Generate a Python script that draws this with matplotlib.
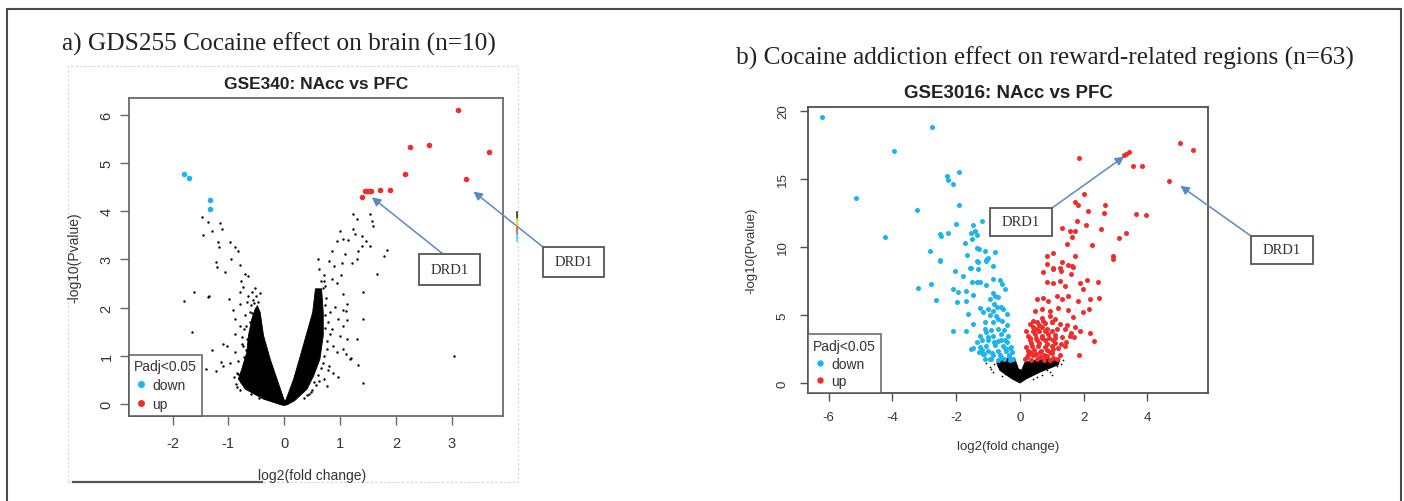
import matplotlib
matplotlib.use("Agg")
import matplotlib.pyplot as plt
from matplotlib.lines import Line2D
from matplotlib.patches import Rectangle

# ---------------- data : panel a (GSE340) ----------------
a_down_x = [-1.79, -1.70, -1.33, -1.33]
a_down_y = [4.77, 4.69, 4.24, 4.05]
a_up_x = [1.40, 1.44, 1.48, 1.52, 1.55, 1.72, 1.90, 2.16, 2.26, 2.60, 3.11, 3.26, 3.67]
a_up_y = [4.30, 4.41, 4.41, 4.41, 4.41, 4.44, 4.45, 4.77, 5.34, 5.37, 6.10, 4.66, 5.23]
a_ns_x = [-1.48, -1.37, -1.15, -1.45, -1.29, -1.12, -1.19, -1.16, -0.97, -0.88, -0.82, -1.22,
          -1.21, -1.06, -0.95, -0.80, -0.70, -0.64, -0.77, -0.73, -0.79, -0.64, -0.58, -1.34,
          -1.62, -1.80, -0.98, -0.91, -0.80, -0.67, -1.65, -0.88, -0.79, -0.88, -0.76, -1.09,
          -1.03, -1.30, -0.88, -1.14, -0.97, -1.10, -1.40, -1.22, -0.82, -0.73, -1.36,
          -0.70, -0.72, -0.75, -0.85, -0.90, -0.78, -0.85, -0.66, -0.72, -0.62, -0.60, -0.55,
          -0.50, -0.52, -0.60, -0.45, -0.69, -0.71, -0.68, -0.74, -0.80, -0.83, -0.87, -0.66,
          -0.62, -0.57, -0.54, -0.47, -0.44,
          1.24, 1.30, 1.54, 1.57, 1.60, 1.00, 0.94, 1.06, 1.15, 1.24, 1.27, 1.39, 1.47, 1.54,
          1.84, 1.78, 1.39, 1.33, 0.86, 0.80, 0.90, 1.03, 1.09, 1.21, 1.30, 1.66, 1.01, 0.71,
          0.74, 0.86, 0.94, 1.05, 1.42, 1.12, 0.91, 1.06, 0.82, 0.97, 1.06, 1.42, 0.85, 1.00,
          1.12, 0.88, 0.94, 1.06, 1.18, 1.33, 0.80, 0.88, 0.97, 0.71, 1.41, 0.77, 0.53, 1.11,
          1.20, 1.30, 1.11, 1.13, 3.05, 0.62, 0.60, 0.66,
          0.75, 0.78, 0.76, 0.72, 0.66, 0.60, 0.50, 0.45, 0.82, 0.73, 0.70, 0.74, 0.77, 0.73,
          0.69, 0.63, 0.57, 0.48, 0.40, 0.35, 0.79, 0.72]
a_ns_y = [3.87, 3.78, 3.76, 3.51, 3.59, 3.63, 3.37, 3.25, 3.37, 3.25, 3.18, 2.94,
          2.84, 2.73, 3.01, 2.89, 2.70, 2.66, 2.56, 2.42, 2.32, 2.25, 2.32, 2.25,
          2.33, 2.14, 2.17, 1.94, 2.07, 2.11, 1.49, 1.76, 1.62, 1.45, 1.38, 1.25,
          1.21, 1.13, 1.07, 0.88, 0.86, 0.79, 0.72, 0.69, 0.90, 1.21, 2.23,
          1.85, 1.55, 1.25, 0.65, 0.55, 0.45, 0.35, 0.60, 0.98, 1.70, 2.05, 2.15,
          2.25, 2.40, 0.20, 0.12, 1.12, 0.85, 1.62, 0.52, 0.30, 0.62, 0.42, 1.35,
          1.90, 1.88, 2.10, 2.12, 2.30,
          3.94, 3.84, 3.94, 3.80, 3.70, 3.60, 3.39, 3.42, 3.40, 3.63, 3.53, 3.49, 3.39, 3.28,
          3.20, 3.08, 3.28, 3.18, 3.18, 2.97, 2.87, 2.93, 3.11, 2.93, 3.01, 2.70, 2.67, 2.67,
          2.45, 2.59, 2.52, 2.28, 2.32, 2.08, 2.01, 1.94, 1.90, 1.76, 1.62, 1.76, 1.56, 1.42,
          1.35, 1.21, 1.07, 1.14, 0.93, 0.81, 0.79, 0.65, 0.55, 0.52, 0.44, 0.38, 0.45, 1.04,
          0.96, 1.35, 1.93, 1.75, 0.99, 2.80, 3.00, 2.55,
          2.20, 1.70, 1.30, 1.00, 0.75, 0.60, 0.30, 0.20, 1.45, 1.85, 2.40, 1.58, 1.15, 2.05,
          0.85, 0.48, 0.40, 0.25, 0.18, 0.12, 0.70, 2.55]
# dense non-significant core (outline of the solid black V)
a_core_x = [-0.48, -0.52, -0.58, -0.64, -0.67, -0.76, -0.82, -0.70, -0.37, -0.05, 0.00,
            0.05, 0.19, 0.41, 0.53, 0.64, 0.70, 0.70, 0.67, 0.56,
            0.51, 0.41, 0.29, 0.17, 0.03, 0.00, -0.13, -0.25, -0.37, -0.43]
a_core_y = [2.04, 1.97, 1.76, 1.42, 1.07, 0.72, 0.52, 0.31, 0.10, -0.02, -0.03,
            -0.02, 0.07, 0.31, 0.59, 0.93, 1.42, 1.90, 2.39, 2.39,
            1.90, 1.49, 1.00, 0.52, 0.08, 0.08, 0.52, 0.93, 1.42, 1.90]
a_xticks = [-2, -1, 0, 1, 2, 3]
a_yticks = [0, 1, 2, 3, 4, 5, 6]
a_drd1 = [(1.57, 4.29), (3.39, 4.41)]

# ---------------- data : panel b (GSE3016) ----------------
b_down_x = [-6.20, -2.75, -3.95, -5.13, -3.24, -4.23, -2.82, -2.50, -1.90, -2.28, -2.25, -2.09,
            -1.92, -2.51, -2.47, -2.26, -2.01, -1.73, -1.65, -1.52, -1.47, -1.54, -1.41, -1.34,
            -1.19, -1.34, -1.30, -1.10, -0.77, -1.34, -1.08, -1.03, -0.99, -0.84, -1.57,
            -2.51, -1.33, -1.05, -3.19, -2.80, -2.64, -2.04, -1.80, -1.55, -1.31, -2.09, -1.94,
            -1.70, -1.52, -1.36, -1.26, -1.05, -0.86, -0.63, -0.57, -0.47, -1.47, -1.68, -1.99,
            -1.26, -1.62, -1.47, -2.09, -1.68, -0.94, -0.79, -0.99, -0.84, -0.73, -0.52, -0.42,
            -1.10, -0.86, -0.68, -0.42, -1.26, -1.05, -0.84, -0.58, -0.37, -1.47, -1.26, -1.05,
            -0.79, -0.52, -0.29, -1.15, -0.84, -0.58, -0.34, -0.94, -0.21, -0.68, -0.47, -0.99,
            -1.36,
            -0.30, -0.50, -0.70, -0.90, -1.10, -1.30, -1.55, -1.20, -1.00, -0.70, -0.45, -0.25,
            -0.40, -0.60, -0.80, -1.00, -1.20, -0.50, -0.70, -0.90, -1.10, -0.55, -0.75, -0.95,
            -0.60, -0.80, -0.70, -0.85, -1.15, -0.35, -0.62, -0.88, -1.12, -0.48, -0.30]
b_down_y = [19.52, 18.79, 17.07, 13.57, 12.69, 10.76, 9.69, 9.03, 15.49, 15.18, 14.93, 14.61,
            13.06, 10.96, 10.81, 11.03, 11.69, 10.30, 9.40, 10.57, 11.63, 11.02, 11.19, 10.87,
            11.92, 9.93, 9.88, 9.71, 9.64, 8.96, 9.03, 9.15, 9.20, 8.61, 8.49,
            9.00, 8.92, 9.00, 6.97, 7.26, 6.14, 8.21, 7.89, 8.43, 8.39, 6.92, 6.68,
            6.80, 7.46, 7.41, 7.46, 7.21, 7.65, 7.60, 7.29, 6.92, 6.44, 6.07, 5.95,
            5.50, 5.10, 4.36, 3.87, 3.80, 6.19, 6.43, 5.45, 5.33, 5.57, 5.45, 5.09,
            4.48, 4.48, 4.72, 4.24, 3.50, 3.75, 3.50, 3.62, 3.50, 2.58, 2.65, 2.77,
            2.82, 2.77, 2.65, 2.16, 2.04, 1.92, 1.99, 1.80, 1.80, 3.07, 3.14, 3.14,
            3.02,
            1.70, 1.75, 1.70, 1.75, 1.80, 2.30, 2.50, 2.45, 2.40, 2.40, 2.35, 2.30,
            3.00, 3.20, 3.00, 3.40, 3.20, 3.90, 4.00, 3.90, 4.00, 4.60, 4.90, 5.00,
            5.60, 5.80, 6.30, 6.60, 5.20, 2.05, 2.10, 2.20, 2.15, 2.60, 2.60]
b_up_x = [1.85, 3.25, 3.33, 3.42, 3.56, 3.84, 5.03, 5.42, 4.68, 2.02, 1.73, 1.83, 2.67, 2.65,
          2.12, 3.64, 3.96, 1.31, 1.78, 2.06, 1.57, 1.73, 2.54, 3.32, 3.11, 1.64, 1.47, 2.27,
          2.91, 2.93, 1.03, 0.86, 1.73, 1.31, 0.84, 1.52, 1.62, 1.05, 1.26,
          0.73, 1.05, 1.28, 1.59, 1.68, 0.84, 1.05, 1.26, 1.41, 1.88, 2.09, 2.46, 1.99, 0.52,
          0.73, 0.89, 1.15, 1.31, 1.52, 1.83, 2.20, 2.49, 0.47, 0.68, 0.94, 1.20, 1.52, 1.99,
          2.18, 1.68, 0.31, 0.52, 0.73, 0.99, 1.26, 1.47, 1.73, 1.88, 2.20, 2.33, 1.86, 0.26,
          0.47, 0.68, 0.89, 1.10, 1.31, 1.57, 0.19, 0.37, 0.58, 0.79, 0.99, 1.20, 1.41, 0.21,
          0.42, 0.63, 0.84, 1.05, 1.26, 0.31, 0.52, 0.79, 1.05, 0.31, 0.63, 0.94, 0.52, 0.84,
          1.15,
          0.15, 0.35, 0.55, 0.75, 0.95, 1.15, 0.25, 0.45, 0.65, 0.85, 1.05, 0.20, 0.40, 0.60,
          0.80, 1.00, 0.60, 0.80, 1.00, 0.40, 0.70, 0.95, 1.10, 0.30, 0.50, 0.70, 0.90, 1.10,
          0.35, 0.60, 0.85, 1.10, 1.30, 1.45, 1.60, 1.70, 1.40, 0.25, 0.50, 0.75, 1.00, 0.40,
          0.70]
b_up_y = [16.52, 16.76, 16.83, 16.96, 15.91, 15.93, 17.64, 17.10, 14.84, 13.89, 13.30, 13.06,
          13.06, 12.50, 12.62, 12.45, 12.33, 11.40, 11.93, 11.64, 11.16, 11.18, 11.29, 11.05,
          10.66, 10.76, 10.25, 10.17, 9.32, 9.10, 9.52, 9.32, 9.35, 8.91, 8.74, 8.67, 8.60,
          8.47, 8.42,
          8.19, 8.39, 8.26, 8.01, 8.50, 7.41, 7.36, 7.53, 7.17, 7.36, 7.60, 7.41, 6.92, 6.19,
          6.24, 6.07, 6.43, 6.19, 6.38, 6.07, 6.19, 6.24, 5.33, 5.45, 5.33, 5.50, 5.40, 5.26,
          5.45, 4.84, 4.36, 4.48, 4.60, 4.48, 4.36, 4.24, 4.12, 3.87, 3.70, 3.07, 2.04, 3.50,
          3.62, 3.50, 3.62, 3.55, 3.38, 3.50, 2.65, 2.77, 2.72, 2.65, 2.77, 2.58, 2.72, 1.92,
          2.04, 1.92, 1.99, 1.89, 2.04, 3.14, 3.14, 3.14, 3.14, 2.28, 2.28, 2.28, 3.99, 3.99,
          3.99,
          1.75, 1.70, 1.75, 1.70, 1.72, 1.75, 2.40, 2.45, 2.40, 2.45, 2.50, 3.80, 3.85, 3.80,
          3.85, 3.80, 4.30, 4.40, 4.50, 4.60, 4.80, 4.95, 4.70, 3.30, 3.35, 3.30, 3.35, 3.30,
          2.95, 2.95, 2.90, 2.95, 2.90, 3.00, 3.70, 3.40, 4.00, 2.10, 2.15, 2.10, 2.20, 4.15,
          4.10]
b_ns_x = [-1.05, -0.94, -0.84, 0.99, 1.36, 1.15, -0.47, 0.68, -0.80, -0.55, 0.85, 1.00, 0.40,
          -0.90, -0.70, 1.30, 0.95, -0.60, 0.55]
b_ns_y = [1.50, 1.19, 0.82, 0.58, 1.68, 1.26, 0.70, 0.58, 1.40, 0.50, 1.00, 1.30, 0.30,
          1.05, 1.30, 1.45, 0.80, 0.95, 0.45]
b_core_x = [-0.73, -0.42, -0.16, -0.05, 0.05, 0.16, 0.42, 0.84, 1.26, 1.20, 0.63, 0.21, 0.00, -0.26, -0.63]
b_core_y = [1.50, 1.80, 1.80, 1.07, 0.95, 1.55, 1.67, 1.80, 1.80, 1.36, 0.82, 0.34, 0.02, 0.34, 0.95]
b_xticks = [-6, -4, -2, 0, 2, 4]
b_yticks = [0, 5, 10, 15, 20]
b_drd1 = [(3.27, 16.63), (5.03, 14.48)]

BLUE = "#1bb4ec"
RED = "#f22b2b"
ARROW = "#5b88c6"
W, H = 1404, 502

fig = plt.figure(figsize=(W / 100, H / 100), dpi=100)
fig.patch.set_facecolor("white")
SANS = ["Liberation Sans", "DejaVu Sans"]
SERIF = ["Liberation Serif", "DejaVu Serif"]


def fx(x):
    return x / W


def fy(y):
    return 1 - y / H


def add_ax(l, t, r, b):
    return fig.add_axes([fx(l), fy(b), fx(r) - fx(l), fy(t) - fy(b)])


def style_axes(ax, xt, yt, xlim, ylim, edge, fs, tlen, xpad, ypad):
    ax.set_xlim(*xlim)
    ax.set_ylim(*ylim)
    ax.set_xticks(xt)
    ax.set_yticks(yt)
    ax.set_xticklabels([str(v) for v in xt], family=SANS, fontsize=fs, color="#333333")
    ax.set_yticklabels([str(v) for v in yt], family=SANS, fontsize=fs, color="#333333",
                       rotation=90, va="center")
    ax.tick_params(axis="both", direction="out", length=tlen, width=1.0, color=edge)
    ax.tick_params(axis="x", pad=xpad)
    ax.tick_params(axis="y", pad=ypad)
    for s in ax.spines.values():
        s.set_color(edge)
        s.set_linewidth(1.3)


def legend(ax, fs, ms, spacing):
    hs = [Line2D([], [], marker="o", ls="", color=BLUE, ms=ms),
          Line2D([], [], marker="o", ls="", color=RED, ms=ms)]
    leg = ax.legend(hs, ["down", "up"], title="Padj<0.05", loc="lower left",
                    bbox_to_anchor=(0, 0), borderaxespad=0, frameon=True, fancybox=False,
                    edgecolor="#555555", alignment="left", handletextpad=0.35,
                    handlelength=1.0, borderpad=0.35, labelspacing=spacing,
                    prop={"family": SANS, "size": fs},
                    title_fontproperties={"family": SANS, "size": fs})
    leg.get_frame().set_linewidth(1.3)
    for t in leg.get_texts():
        t.set_color("#333333")
    leg.get_title().set_color("#333333")
    return leg


# ---------------- panel a ----------------
axa = add_ax(129, 99, 503, 417)
axa.fill(a_core_x, a_core_y, color="black", lw=0.6, zorder=2)
axa.scatter(a_ns_x, a_ns_y, s=3, color="black", lw=0, zorder=2)
axa.scatter(a_down_x, a_down_y, s=16, color=BLUE, lw=0, zorder=3)
axa.scatter(a_up_x, a_up_y, s=16, color=RED, lw=0, zorder=3)
style_axes(axa, a_xticks, a_yticks, (-2.78, 3.92), (-0.25, 6.35), "#6a6a6a", 10.5, 6.5, 8, 4.5)
legend(axa, 10, 4, 0.35)

# ---------------- panel b ----------------
axb = add_ax(808, 108, 1208, 394)
axb.fill(b_core_x, b_core_y, color="black", lw=0.6, zorder=2)
axb.scatter(b_ns_x, b_ns_y, s=1.5, color="black", lw=0, zorder=2)
axb.scatter(b_down_x, b_down_y, s=13, color=BLUE, lw=0, zorder=3)
axb.scatter(b_up_x, b_up_y, s=13, color=RED, lw=0, zorder=3)
style_axes(axb, b_xticks, b_yticks, (-6.65, 5.90), (-0.71, 20.26), "#505050", 9.5, 5.8, 7, 8)
legend(axb, 10, 3.6, 0.25)

# ---------------- texts ----------------
fig.text(fx(62), fy(44), "a) GDS255 Cocaine effect on brain (n=10)", family=SERIF,
         fontsize=18.3, va="center", ha="left", color="#222222")
fig.text(fx(736), fy(58), "b) Cocaine addiction effect on reward-related regions (n=63)",
         family=SERIF, fontsize=18.3, va="center", ha="left", color="#222222")
fig.text(fx(316), fy(85), "GSE340: NAcc vs PFC", family=SANS, fontsize=12.5,
         weight="bold", ha="center", va="center", color="#222222")
fig.text(fx(1008), fy(93), "GSE3016: NAcc vs PFC", family=SANS, fontsize=13.5,
         weight="bold", ha="center", va="center", color="#222222")
fig.text(fx(312), fy(476), "log2(fold change)", family=SANS, fontsize=10,
         ha="center", va="center", color="#333333")
fig.text(fx(1008), fy(447), "log2(fold change)", family=SANS, fontsize=9.5,
         ha="center", va="center", color="#333333")
fig.text(fx(74), fy(258), "-log10(Pvalue)", family=SANS, fontsize=10, rotation=90,
         ha="center", va="center", color="#333333")
fig.text(fx(751), fy(251), "-log10(Pvalue)", family=SANS, fontsize=9.5, rotation=90,
         ha="center", va="center", color="#333333")


# ---------------- DRD1 annotations ----------------
def drd1_box(l, t, r, b):
    fig.add_artist(Rectangle((fx(l), fy(b)), fx(r) - fx(l), fy(t) - fy(b),
                             transform=fig.transFigure, facecolor="white",
                             edgecolor="#555555", lw=1.3, zorder=5))
    fig.text(fx((l + r) / 2), fy((t + b) / 2), "DRD1", family=SERIF, fontsize=10.5,
             ha="center", va="center", color="#333333", zorder=6)


def arrow(ax, xy, tail):
    ax.annotate("", xy=xy, xycoords="data", xytext=(tail[0], H - tail[1]),
                textcoords="figure pixels", annotation_clip=False,
                arrowprops=dict(arrowstyle="-|>", color=ARROW, lw=1.1,
                                mutation_scale=13, shrinkA=0, shrinkB=0), zorder=6)


arrow(axa, a_drd1[0], (443, 255))
arrow(axa, a_drd1[1], (543, 248))
drd1_box(419, 255, 480, 286)
drd1_box(543, 248, 604, 278)
arrow(axb, b_drd1[0], (1052, 209))
arrow(axb, b_drd1[1], (1251, 237))
drd1_box(990, 209, 1052, 237)
drd1_box(1251, 237, 1313, 265)

# ---------------- frame decorations ----------------
fig.add_artist(Rectangle((fx(7), -0.1), fx(1401) - fx(7), fy(10) + 0.1,
                         transform=fig.transFigure, fill=False, edgecolor="#4a4a4a",
                         lw=1.5))
fig.add_artist(Rectangle((fx(68), fy(483)), fx(518) - fx(68), fy(67) - fy(483),
                         transform=fig.transFigure, fill=False, edgecolor="#d6d6d6",
                         lw=0.8, ls=(0, (2, 2))))
fig.add_artist(Line2D([fx(73), fx(262)], [fy(483), fy(483)], transform=fig.transFigure,
                      color="#555555", lw=1.6))
for y0, y1, c in [(213, 220, "#333333"), (220, 228, "#f2d21a"), (228, 235, "#e8484a"),
                  (235, 242, "#35d8e8")]:
    fig.add_artist(Line2D([fx(517), fx(517)], [fy(y0), fy(y1)], transform=fig.transFigure,
                          color=c, lw=1.2))

fig.savefig("out.png", dpi=100, facecolor="white")
